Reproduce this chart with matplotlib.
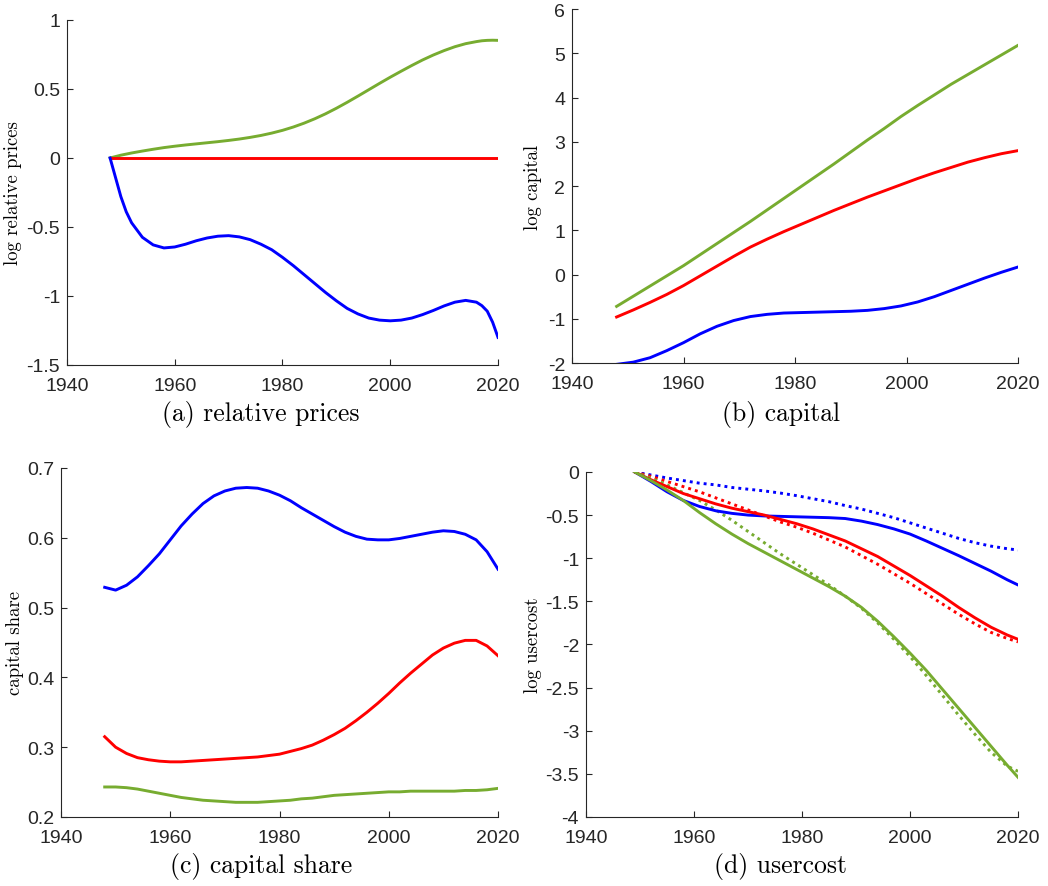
import numpy as np
import matplotlib
matplotlib.use("Agg")
import matplotlib.pyplot as plt

plt.rcParams['font.family'] = ['Liberation Sans', 'DejaVu Sans']
plt.rcParams['axes.unicode_minus'] = False

# colours (MATLAB style)
BLUE = (0, 0, 1)
RED = (1, 0, 0)
GREEN = (0.466, 0.674, 0.188)

# (a) relative prices
yrs_a = [1948, 1949, 1950, 1951, 1952] + list(range(1954, 2017, 2)) + [2017, 2018, 2019, 2020]
price_blue = [0.0, -0.14, -0.28, -0.39, -0.47,
              -0.575, -0.63, -0.652, -0.645, -0.625, -0.6, -0.58, -0.567, -0.563, -0.572,
              -0.592, -0.625, -0.665, -0.72, -0.78, -0.845, -0.91, -0.975, -1.035, -1.09,
              -1.13, -1.16, -1.175, -1.18, -1.175, -1.16, -1.135, -1.105, -1.072, -1.045,
              -1.032, -1.045,
              -1.07, -1.11, -1.19, -1.3]
price_green = [0.0, 0.01, 0.02, 0.028, 0.036,
               0.05, 0.063, 0.075, 0.085, 0.094, 0.102, 0.11, 0.118, 0.127, 0.137,
               0.149, 0.163, 0.18, 0.2, 0.224, 0.252, 0.284, 0.32, 0.36, 0.403,
               0.448, 0.494, 0.54, 0.585, 0.628, 0.67, 0.71, 0.746, 0.778, 0.806,
               0.828, 0.843,
               0.849, 0.852, 0.853, 0.852]
price_red = [0.0] * len(yrs_a)

# (b) capital
yrs_b = list(range(1948, 2021, 3))
cap_green = [-0.72, -0.49, -0.26, -0.03, 0.2, 0.45, 0.7, 0.95, 1.2, 1.46, 1.72, 1.98, 2.24,
             2.5, 2.77, 3.04, 3.3, 3.57, 3.82, 4.06, 4.3, 4.52, 4.74, 4.96, 5.18]
cap_red = [-0.96, -0.8, -0.63, -0.45, -0.25, -0.03, 0.19, 0.41, 0.62, 0.8, 0.97, 1.13, 1.29,
           1.45, 1.6, 1.75, 1.89, 2.03, 2.17, 2.3, 2.42, 2.54, 2.64, 2.73, 2.8]
cap_blue = [-2.03, -1.98, -1.88, -1.72, -1.54, -1.34, -1.17, -1.04, -0.95, -0.9, -0.87, -0.86,
            -0.85, -0.84, -0.83, -0.81, -0.77, -0.71, -0.62, -0.5, -0.36, -0.22, -0.08, 0.05, 0.17]

# (c) capital share
yrs_c = list(range(1948, 2021, 2))
share_blue = [0.529, 0.525, 0.532, 0.544, 0.56, 0.577, 0.597, 0.617, 0.634, 0.649, 0.66, 0.667,
              0.671, 0.672, 0.671, 0.667, 0.661, 0.653, 0.643, 0.634, 0.625, 0.616, 0.608,
              0.602, 0.598, 0.597, 0.597, 0.599, 0.602, 0.605, 0.608, 0.61, 0.609, 0.605,
              0.597, 0.58, 0.555]
share_red = [0.315, 0.3, 0.291, 0.285, 0.282, 0.28, 0.279, 0.279, 0.28, 0.281, 0.282, 0.283,
             0.284, 0.285, 0.286, 0.288, 0.29, 0.294, 0.298, 0.303, 0.31, 0.318, 0.327,
             0.338, 0.35, 0.363, 0.377, 0.392, 0.406, 0.419, 0.432, 0.442, 0.449, 0.453,
             0.453, 0.445, 0.431]
share_green = [0.243, 0.243, 0.242, 0.24, 0.237, 0.234, 0.231, 0.228, 0.226, 0.224, 0.223,
               0.222, 0.221, 0.221, 0.221, 0.222, 0.223, 0.224, 0.226, 0.227, 0.229, 0.231,
               0.232, 0.233, 0.234, 0.235, 0.236, 0.236, 0.237, 0.237, 0.237, 0.237, 0.237,
               0.238, 0.238, 0.239, 0.241]

# (d) usercost: solid and dotted
yrs_d = list(range(1949, 2019, 3)) + [2020]
uc_blue = [0.0, -0.11, -0.23, -0.33, -0.4, -0.45, -0.48, -0.5, -0.51, -0.515, -0.52, -0.525,
           -0.53, -0.54, -0.57, -0.61, -0.66, -0.72, -0.8, -0.885, -0.97, -1.06, -1.15,
           -1.25, -1.31]
uc_blue_dot = [0.0, -0.035, -0.07, -0.1, -0.13, -0.15, -0.18, -0.2, -0.22, -0.245, -0.275,
               -0.31, -0.345, -0.39, -0.43, -0.48, -0.53, -0.59, -0.65, -0.71, -0.77, -0.82,
               -0.86, -0.89, -0.905]
uc_red = [0.0, -0.09, -0.17, -0.25, -0.31, -0.37, -0.42, -0.46, -0.5, -0.55, -0.6, -0.66,
          -0.73, -0.8, -0.89, -0.98, -1.09, -1.2, -1.32, -1.44, -1.57, -1.69, -1.8, -1.89, -1.94]
uc_red_dot = [0.0, -0.05, -0.11, -0.17, -0.23, -0.3, -0.37, -0.44, -0.51, -0.58, -0.64, -0.71,
              -0.79, -0.87, -0.97, -1.07, -1.18, -1.29, -1.41, -1.53, -1.65, -1.76, -1.86,
              -1.93, -1.97]
uc_green = [0.0, -0.1, -0.21, -0.33, -0.47, -0.6, -0.72, -0.83, -0.93, -1.03, -1.13, -1.23,
            -1.33, -1.44, -1.57, -1.73, -1.91, -2.1, -2.3, -2.52, -2.74, -2.96, -3.18, -3.4, -3.54]
uc_green_dot = [0.0, -0.07, -0.15, -0.24, -0.33, -0.44, -0.56, -0.69, -0.82, -0.95, -1.07,
                -1.19, -1.31, -1.44, -1.58, -1.75, -1.94, -2.14, -2.36, -2.59, -2.82, -3.04,
                -3.25, -3.41, -3.47]

fig = plt.figure(figsize=(10.48, 8.87), dpi=100)
ax_a = fig.add_axes([0.0639, 0.5874, 0.4113, 0.389])
ax_b = fig.add_axes([0.5458, 0.5896, 0.4256, 0.3991])
ax_c = fig.add_axes([0.0582, 0.0778, 0.417, 0.3935])
ax_d = fig.add_axes([0.5592, 0.0778, 0.4122, 0.389])

lw = 2.1
dots = (0, (1, 1.4))

ax_a.plot(yrs_a, price_green, color=GREEN, lw=lw)
ax_a.plot(yrs_a, price_red, color=RED, lw=lw)
ax_a.plot(yrs_a, price_blue, color=BLUE, lw=lw)

ax_b.plot(yrs_b, cap_green, color=GREEN, lw=lw)
ax_b.plot(yrs_b, cap_red, color=RED, lw=lw)
ax_b.plot(yrs_b, cap_blue, color=BLUE, lw=lw)

ax_c.plot(yrs_c, share_blue, color=BLUE, lw=lw)
ax_c.plot(yrs_c, share_red, color=RED, lw=lw)
ax_c.plot(yrs_c, share_green, color=GREEN, lw=lw)

ax_d.plot(yrs_d, uc_blue_dot, color=BLUE, lw=lw, ls=dots)
ax_d.plot(yrs_d, uc_red_dot, color=RED, lw=lw, ls=dots)
ax_d.plot(yrs_d, uc_green_dot, color=GREEN, lw=lw, ls=dots)
ax_d.plot(yrs_d, uc_blue, color=BLUE, lw=lw)
ax_d.plot(yrs_d, uc_red, color=RED, lw=lw)
ax_d.plot(yrs_d, uc_green, color=GREEN, lw=lw)

setup = [
    (ax_a, (-1.5, 1), [-1.5, -1, -0.5, 0, 0.5, 1], ['-1.5', '-1', '-0.5', '0', '0.5', '1'],
     'log relative prices', -0.104),
    (ax_b, (-2, 6), list(range(-2, 7)), [str(v) for v in range(-2, 7)],
     'log capital', -0.067),
    (ax_c, (0.2, 0.7), [0.2, 0.3, 0.4, 0.5, 0.6, 0.7], ['0.2', '0.3', '0.4', '0.5', '0.6', '0.7'],
     'capital share', -0.085),
    (ax_d, (-4, 0), [-4, -3.5, -3, -2.5, -2, -1.5, -1, -0.5, 0],
     ['-4', '-3.5', '-3', '-2.5', '-2', '-1.5', '-1', '-0.5', '0'],
     'log usercost', -0.102),
]
for ax, ylim, yt, ytl, ylab, lx in setup:
    ax.set_xlim(1940, 2020)
    ax.set_ylim(*ylim)
    ax.set_xticks([1940, 1960, 1980, 2000, 2020])
    ax.set_yticks(yt)
    ax.set_yticklabels(ytl)
    for s in ['top', 'right']:
        ax.spines[s].set_visible(False)
    for s in ['left', 'bottom']:
        ax.spines[s].set_color('#262626')
        ax.spines[s].set_linewidth(0.8)
    ax.tick_params(direction='in', length=4, width=0.8, colors='#262626', labelsize=14)
    ax.tick_params(axis='x', pad=8.5)
    ax.tick_params(axis='y', pad=5)
    ax.set_ylabel(ylab, family='cmr10', fontsize=13.5, color='black')
    ax.yaxis.set_label_coords(lx, 0.5)

captions = [(261, 415, '(a) relative prices'), (781, 415, '(b) capital'),
            (261, 867, '(c) capital share'), (781, 867, '(d) usercost')]
for cx, cy, txt in captions:
    fig.text(cx / 1048, 1 - cy / 887, txt, family='cmr10', fontsize=18.5,
             ha='center', va='center')

fig.savefig('out.png', dpi=100)
